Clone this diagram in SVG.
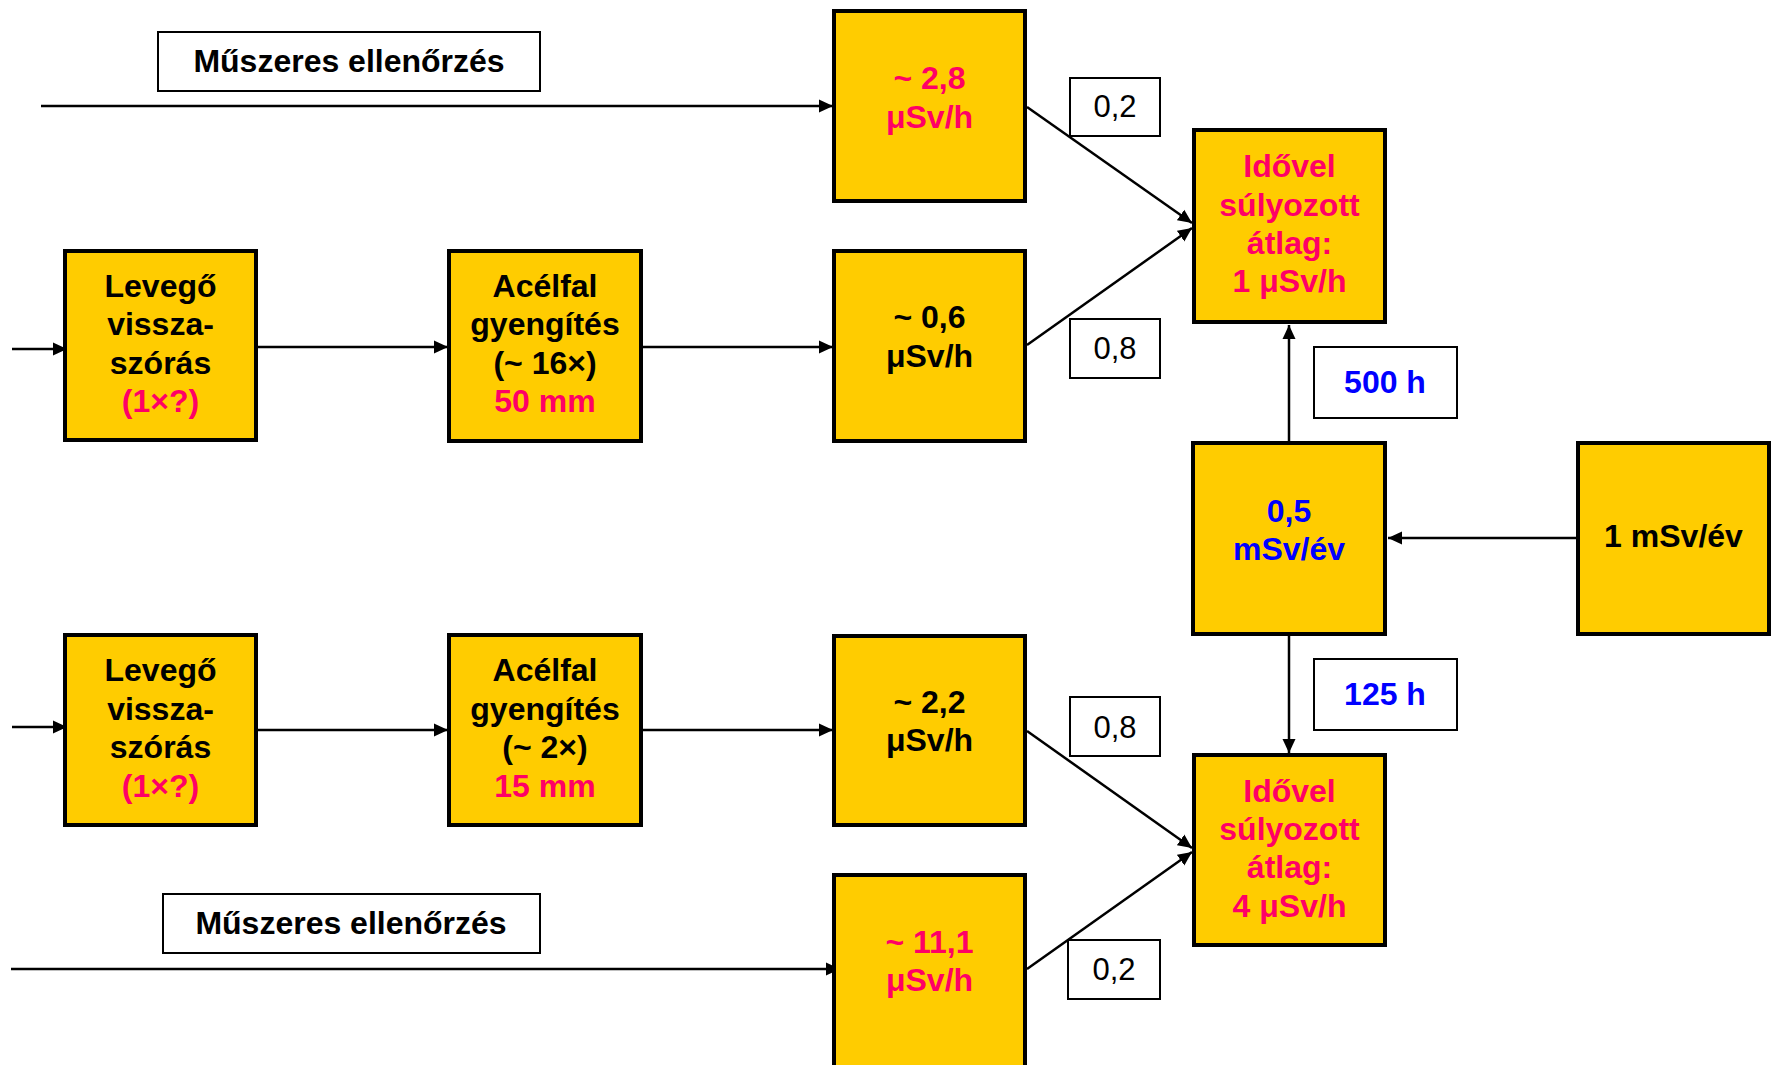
<svg xmlns="http://www.w3.org/2000/svg" width="1774" height="1065" viewBox="0 0 1774 1065">
<defs>
<style>
.box{fill:#FFCC00;stroke:#000;stroke-width:4}
.lbl{fill:#fff;stroke:#000;stroke-width:2}
text{font-family:"Liberation Sans",Arial,sans-serif;font-size:31px;text-anchor:middle}
.b{font-weight:bold;font-size:32px}
.k{fill:#000}
.p{fill:#FF0066}
.u{fill:#0000FF}
.c{fill:none;stroke:#000;stroke-width:2.5;marker-end:url(#ah)}
</style>
<marker id="ah" markerUnits="userSpaceOnUse" markerWidth="15" markerHeight="15" viewBox="0 0 15 15" refX="14" refY="7.5" orient="auto">
<path d="M0,1 L14,7.5 L0,14 z" fill="#000"/>
</marker>
</defs>
<rect width="1774" height="1065" fill="#fff"/>
<g id="connectors">
<line class="c" x1="41" y1="106" x2="833" y2="106"/>
<line class="c" x1="12" y1="349" x2="67" y2="349"/>
<line class="c" x1="258" y1="347" x2="448" y2="347"/>
<line class="c" x1="643" y1="347" x2="833" y2="347"/>
<line class="c" x1="1027" y1="107" x2="1192" y2="223"/>
<line class="c" x1="1027" y1="345" x2="1192" y2="228"/>
<line class="c" x1="1289" y1="441" x2="1289" y2="325"/>
<line class="c" x1="1576" y1="538" x2="1388" y2="538"/>
<line class="c" x1="1289" y1="636" x2="1289" y2="753"/>
<line class="c" x1="12" y1="727" x2="67" y2="727"/>
<line class="c" x1="258" y1="730" x2="448" y2="730"/>
<line class="c" x1="643" y1="730" x2="833" y2="730"/>
<line class="c" x1="1027" y1="731" x2="1192" y2="848"/>
<line class="c" x1="11" y1="969" x2="840" y2="969"/>
<line class="c" x1="1027" y1="969" x2="1192" y2="852"/>
</g>
<g id="lbl-muszeres1"><rect class="lbl" x="158" y="32" width="382" height="59"/><text class="b k" x="349" y="72">Műszeres ellenőrzés</text></g>
<g id="lbl-muszeres2"><rect class="lbl" x="163" y="894" width="377" height="59"/><text class="b k" x="351" y="934">Műszeres ellenőrzés</text></g>
<g id="n-28"><rect class="box" x="834" y="11" width="191" height="190"/><text class="b p" x="929.5" y="89">~ 2,8</text><text class="b p" x="929.5" y="128">μSv/h</text></g>
<g id="n-lev1"><rect class="box" x="65" y="251" width="191" height="189"/><text class="b k" x="160.5" y="297">Levegő</text><text class="b k" x="160.5" y="335">vissza-</text><text class="b k" x="160.5" y="374">szórás</text><text class="b p" x="160.5" y="412">(1×?)</text></g>
<g id="n-acel1"><rect class="box" x="449" y="251" width="192" height="190"/><text class="b k" x="545" y="297">Acélfal</text><text class="b k" x="545" y="335">gyengítés</text><text class="b k" x="545" y="374">(~ 16×)</text><text class="b p" x="545" y="412">50 mm</text></g>
<g id="n-06"><rect class="box" x="834" y="251" width="191" height="190"/><text class="b k" x="929.5" y="328">~ 0,6</text><text class="b k" x="929.5" y="367">μSv/h</text></g>
<g id="n-ido1"><rect class="box" x="1194" y="130" width="191" height="192"/><text class="b p" x="1289.5" y="177">Idővel</text><text class="b p" x="1289.5" y="216">súlyozott</text><text class="b p" x="1289.5" y="254">átlag:</text><text class="b p" x="1289.5" y="292">1 μSv/h</text></g>
<g id="lbl-02a"><rect class="lbl" x="1070" y="78" width="90" height="58"/><text class="k" x="1115" y="117">0,2</text></g>
<g id="lbl-08a"><rect class="lbl" x="1070" y="319" width="90" height="59"/><text class="k" x="1115" y="359">0,8</text></g>
<g id="lbl-500"><rect class="lbl" x="1314" y="347" width="143" height="71"/><text class="b u" x="1385" y="393">500 h</text></g>
<g id="n-05"><rect class="box" x="1193" y="443" width="192" height="191"/><text class="b u" x="1289" y="522">0,5</text><text class="b u" x="1289" y="560">mSv/év</text></g>
<g id="n-1msv"><rect class="box" x="1578" y="443" width="191" height="191"/><text class="b k" x="1673.5" y="547">1 mSv/év</text></g>
<g id="lbl-125"><rect class="lbl" x="1314" y="659" width="143" height="71"/><text class="b u" x="1385" y="705">125 h</text></g>
<g id="n-lev2"><rect class="box" x="65" y="635" width="191" height="190"/><text class="b k" x="160.5" y="681">Levegő</text><text class="b k" x="160.5" y="719.5">vissza-</text><text class="b k" x="160.5" y="758">szórás</text><text class="b p" x="160.5" y="796.5">(1×?)</text></g>
<g id="n-acel2"><rect class="box" x="449" y="635" width="192" height="190"/><text class="b k" x="545" y="681">Acélfal</text><text class="b k" x="545" y="719.5">gyengítés</text><text class="b k" x="545" y="758">(~ 2×)</text><text class="b p" x="545" y="796.5">15 mm</text></g>
<g id="n-22"><rect class="box" x="834" y="636" width="191" height="189"/><text class="b k" x="929.5" y="713">~ 2,2</text><text class="b k" x="929.5" y="751">μSv/h</text></g>
<g id="lbl-08b"><rect class="lbl" x="1070" y="697" width="90" height="59"/><text class="k" x="1115" y="738">0,8</text></g>
<g id="n-ido4"><rect class="box" x="1194" y="755" width="191" height="190"/><text class="b p" x="1289.5" y="802">Idővel</text><text class="b p" x="1289.5" y="840">súlyozott</text><text class="b p" x="1289.5" y="878">átlag:</text><text class="b p" x="1289.5" y="917">4 μSv/h</text></g>
<g id="n-111"><rect class="box" x="834" y="875" width="191" height="200"/><text class="b p" x="929.5" y="953">~ 11,1</text><text class="b p" x="929.5" y="991">μSv/h</text></g>
<g id="lbl-02b"><rect class="lbl" x="1068" y="940" width="92" height="59"/><text class="k" x="1114" y="980">0,2</text></g>
</svg>
